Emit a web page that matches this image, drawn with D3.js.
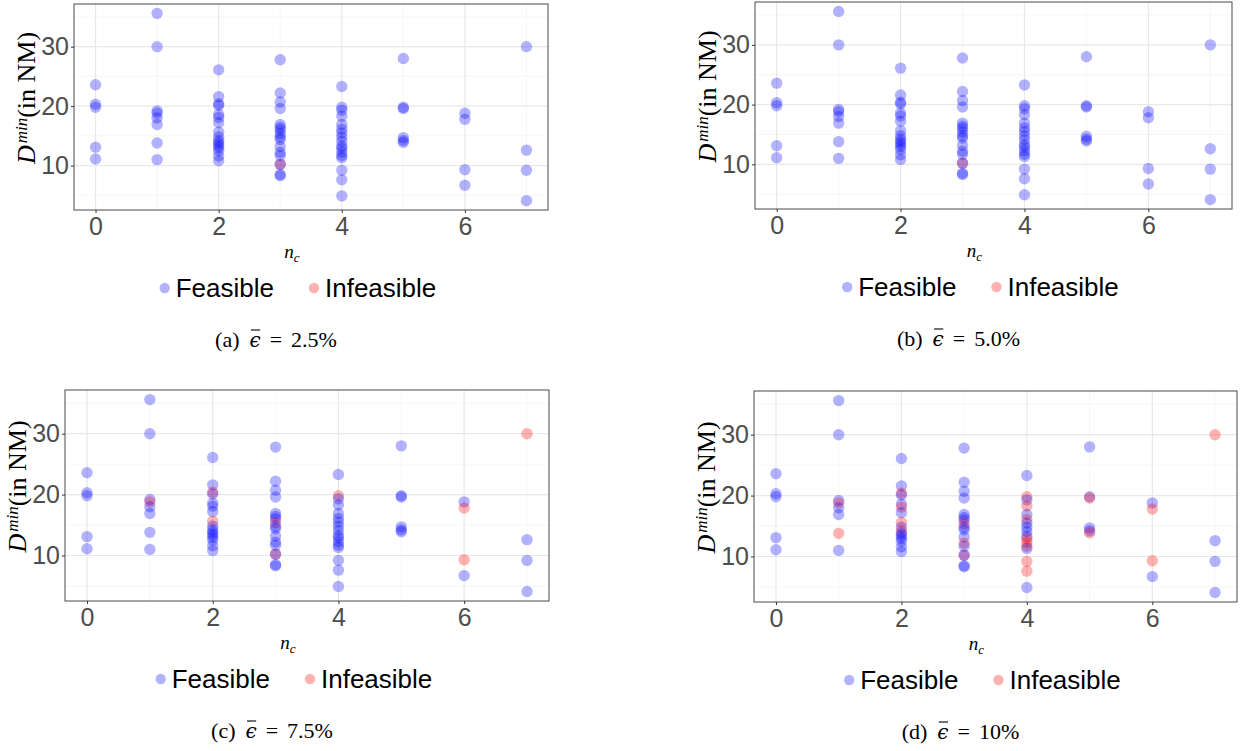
<!DOCTYPE html>
<html>
<head>
<meta charset="utf-8">
<script src="https://cdn.jsdelivr.net/npm/d3@7"></script>
<style>
  body { margin: 0; background: #fff; }
  svg { display: block; }
</style>
</head>
<body>
<svg id="chart" width="1240" height="751"></svg>
<script>
// n_c categories and D^min values (in NM) of every run, one array per n_c
const ncValues = [0, 1, 2, 3, 4, 5, 6, 7];
const dminNc0 = [23.6, 20.3, 19.8, 13.1, 11.1];
const dminNc1 = [35.6, 30.0, 19.2, 18.8, 18.0, 16.9, 13.8, 11.0];
const dminNc2 = [26.1, 21.6, 20.4, 20.1, 18.6, 18.1, 17.2, 15.6, 14.8, 14.2, 13.8, 13.4, 13.0, 12.5, 11.6, 10.8];
const dminNc3 = [27.8, 22.2, 20.7, 19.6, 16.9, 16.4, 16.0, 15.4, 14.8, 14.4, 13.2, 12.2, 11.7, 10.2, 10.2, 8.5, 8.3];
const dminNc4 = [23.3, 19.8, 19.3, 18.3, 16.9, 16.1, 15.5, 14.8, 14.1, 13.3, 12.9, 12.3, 11.7, 11.3, 9.2, 7.6, 4.9];
const dminNc5 = [28.0, 19.8, 19.6, 14.7, 14.2, 13.9];
const dminNc6 = [18.8, 17.8, 9.3, 6.7];
const dminNc7 = [30.0, 12.6, 9.2, 4.1];

// runs that came out infeasible for each tolerance, as [n_c, D^min]
const infeasibleA = [[3, 10.2]];
const infeasibleB = [[3, 10.2]];
const infeasibleC = [[1, 18.8], [2, 20.4], [2, 15.6], [3, 15.4], [3, 10.2], [4, 19.8],
  [6, 17.8], [6, 9.3], [7, 30.0]];
const infeasibleD = [[1, 18.8], [1, 13.8], [2, 20.4], [2, 18.1], [2, 15.6], [2, 14.2],
  [3, 15.4], [3, 12.2], [3, 10.2], [4, 19.8], [4, 18.3], [4, 16.1], [4, 12.9], [4, 12.3],
  [4, 11.7], [4, 9.2], [4, 7.6], [5, 19.6], [5, 13.9], [6, 17.8], [6, 9.3], [7, 30.0]];

const panelLetters = ["(a)", "(b)", "(c)", "(d)"];
const epsLabels = ["2.5%", "5.0%", "7.5%", "10%"];
const xTicks = [0, 2, 4, 6];
const yTicks = [10, 20, 30];
const statusLabels = ["Feasible", "Infeasible"];

const colorOf = { Feasible: "#0000ff", Infeasible: "#ff0000" };
const dotAlpha = 0.3;

const dminByNc = [dminNc0, dminNc1, dminNc2, dminNc3, dminNc4, dminNc5, dminNc6, dminNc7];
const allRuns = ncValues.flatMap((nc, i) => dminByNc[i].map(d => ({ nc: nc, d: d })));

// panel rectangles (the grey-bordered plotting areas)
const boxes = [
  { left: 74, top: 4, right: 548, bottom: 210 },
  { left: 755, top: 2, right: 1232, bottom: 209 },
  { left: 65, top: 390, right: 549, bottom: 601 },
  { left: 754, top: 391, right: 1237, bottom: 602 }
];
const infeasibleSets = [infeasibleA, infeasibleB, infeasibleC, infeasibleD];

// ggplot style 5% expansion
function expand(ext) {
  const pad = (ext[1] - ext[0]) * 0.05;
  return [ext[0] - pad, ext[1] + pad];
}
const xDomain = expand(d3.extent(ncValues));
const yDomain = expand(d3.extent(allRuns, r => r.d));

const svg = d3.select("#chart");

function labelRuns(infeasible) {
  const runs = allRuns.map(r => ({ nc: r.nc, d: r.d, status: "Feasible" }));
  infeasible.forEach(([nc, d]) => {
    const hit = runs.find(r => r.nc === nc && r.d === d && r.status === "Feasible");
    if (hit) hit.status = "Infeasible";
    else runs.push({ nc: nc, d: d, status: "Infeasible" });
  });
  return runs;
}

function drawPanel(box, infeasible, letter, eps) {
  const x = d3.scaleLinear().domain(xDomain).range([box.left, box.right]);
  const y = d3.scaleLinear().domain(yDomain).range([box.bottom, box.top]);
  const g = svg.append("g");
  const cx = (box.left + box.right) / 2;
  const cy = (box.top + box.bottom) / 2;

  // minor grid (between the major ticks)
  const xMinor = xTicks.map(t => t + 1).filter(t => t <= xDomain[1]);
  const yMinor = d3.range(yTicks[0] - 5, yDomain[1], 10).filter(t => t >= yDomain[0]);
  g.selectAll(".xminor").data(xMinor).enter().append("line")
    .attr("x1", d => x(d)).attr("x2", d => x(d))
    .attr("y1", box.top).attr("y2", box.bottom)
    .attr("stroke", "#f2f2f2").attr("stroke-width", 0.7);
  g.selectAll(".yminor").data(yMinor).enter().append("line")
    .attr("x1", box.left).attr("x2", box.right)
    .attr("y1", d => y(d)).attr("y2", d => y(d))
    .attr("stroke", "#f2f2f2").attr("stroke-width", 0.7);
  // major grid
  g.selectAll(".xmajor").data(xTicks).enter().append("line")
    .attr("x1", d => x(d)).attr("x2", d => x(d))
    .attr("y1", box.top).attr("y2", box.bottom)
    .attr("stroke", "#e8e8e8").attr("stroke-width", 1.2);
  g.selectAll(".ymajor").data(yTicks).enter().append("line")
    .attr("x1", box.left).attr("x2", box.right)
    .attr("y1", d => y(d)).attr("y2", d => y(d))
    .attr("stroke", "#e8e8e8").attr("stroke-width", 1.2);

  // points
  const runs = labelRuns(infeasible);
  g.selectAll(".pt").data(runs).enter().append("circle")
    .attr("cx", d => x(d.nc))
    .attr("cy", d => y(d.d))
    .attr("r", 5.7)
    .attr("fill", d => colorOf[d.status])
    .attr("fill-opacity", dotAlpha);

  g.append("rect")
    .attr("x", box.left).attr("y", box.top)
    .attr("width", box.right - box.left).attr("height", box.bottom - box.top)
    .attr("fill", "none").attr("stroke", "#5a5a5a").attr("stroke-width", 1.1);

  // axes
  const xAxis = g.append("g")
    .attr("transform", "translate(0," + box.bottom + ")")
    .call(d3.axisBottom(x).tickValues(xTicks).tickSize(3).tickPadding(4).tickFormat(d3.format("d")));
  const yAxis = g.append("g")
    .attr("transform", "translate(" + box.left + ",0)")
    .call(d3.axisLeft(y).tickValues(yTicks).tickSize(3).tickPadding(2).tickFormat(d3.format("d")));
  [xAxis, yAxis].forEach(a => {
    a.select(".domain").remove();
    a.selectAll(".tick line").attr("stroke", "#333").attr("stroke-width", 1);
    a.selectAll(".tick text")
      .attr("fill", "#4d4d4d")
      .style("font-family", "'Liberation Sans', Arial, sans-serif")
      .style("font-size", "25px");
  });

  // y axis title: D^min(in NM)
  const yt = g.append("text")
    .attr("transform", "translate(" + (box.left - 39) + "," + (cy - 9) + ") rotate(-90)")
    .attr("text-anchor", "middle")
    .style("font-family", "'Liberation Serif', 'Times New Roman', serif")
    .style("font-size", "26px")
    .attr("fill", "#000");
  yt.append("tspan").style("font-style", "italic").text("D");
  yt.append("tspan").style("font-style", "italic").style("font-size", "17px")
    .attr("dx", 2).attr("dy", -8).text("min");
  yt.append("tspan").attr("dy", 8).text("(in NM)");

  // x axis title: n_c
  const xt = g.append("text")
    .attr("x", cx - 19).attr("y", box.bottom + 48)
    .attr("text-anchor", "middle")
    .style("font-family", "'Liberation Serif', 'Times New Roman', serif")
    .style("font-style", "italic")
    .style("font-size", "19px")
    .attr("fill", "#000");
  xt.append("tspan").text("n");
  xt.append("tspan").style("font-size", "13px").attr("dy", 4).text("c");

  // legend
  const leg = g.append("g");
  let pos = 0;
  statusLabels.forEach(s => {
    const it = leg.append("g");
    it.append("circle").attr("cx", 0).attr("cy", 0).attr("r", 5.2)
      .attr("fill", colorOf[s]).attr("fill-opacity", dotAlpha);
    const t = it.append("text").attr("x", 11).attr("dy", "0.35em")
      .style("font-family", "'Liberation Sans', Arial, sans-serif")
      .style("font-size", "26px").attr("fill", "#000").text(s);
    const w = t.node().getComputedTextLength();
    it.attr("transform", "translate(" + pos + ",0)");
    pos += 11 + w + 40;
  });
  const total = pos - 40 + 5;
  leg.attr("transform", "translate(" + (cx - 13 - total / 2 + 5) + "," + (box.bottom + 78) + ")");

  // caption: (a) eps-bar = 2.5%
  const cap = g.append("text")
    .attr("x", cx - 35).attr("y", box.bottom + 137)
    .attr("text-anchor", "middle")
    .style("font-family", "'Liberation Serif', 'Times New Roman', serif")
    .style("font-size", "22px")
    .attr("fill", "#000");
  cap.append("tspan").text(letter);
  cap.append("tspan").attr("dx", 10)
    .style("font-family", "'DejaVu Serif', serif").style("font-style", "italic")
    .style("font-size", "20px").text("\u03F5");
  cap.append("tspan").attr("dx", 9).text("=");
  cap.append("tspan").attr("dx", 9).text(eps);
  const ext = cap.node().getExtentOfChar(letter.length);
  g.append("line")
    .attr("x1", ext.x + 1.5).attr("x2", ext.x + ext.width - 0.5)
    .attr("y1", box.bottom + 120).attr("y2", box.bottom + 120)
    .attr("stroke", "#000").attr("stroke-width", 1.1);
}

boxes.forEach((b, i) => drawPanel(b, infeasibleSets[i], panelLetters[i], epsLabels[i]));
</script>
</body>
</html>
